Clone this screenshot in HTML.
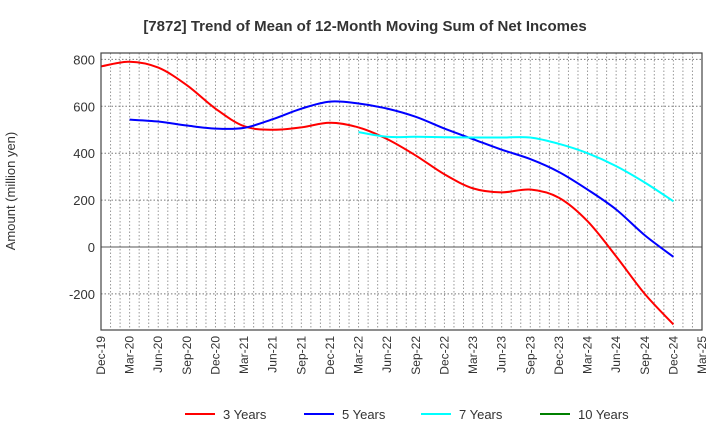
<!DOCTYPE html>
<html><head><meta charset="utf-8"><style>
body{margin:0;background:#fff;font-family:"Liberation Sans",sans-serif;}
svg text{font-family:"Liberation Sans",sans-serif;fill:#333;}
</style></head><body>
<svg id="chart" width="720" height="440" xmlns="http://www.w3.org/2000/svg">
<text x="365" y="31" text-anchor="middle" font-size="15" font-weight="bold">[7872]  Trend of Mean of 12-Month Moving Sum of Net Incomes</text>
<text transform="translate(15,191) rotate(-90)" text-anchor="middle" font-size="13">Amount (million yen)</text>
<g id="grid"></g><g id="series"></g><g id="axes"></g><g id="legend"></g>
</svg>
<script>
const xLabels=["Dec-19","Mar-20","Jun-20","Sep-20","Dec-20","Mar-21","Jun-21","Sep-21","Dec-21","Mar-22","Jun-22","Sep-22","Dec-22","Mar-23","Jun-23","Sep-23","Dec-23","Mar-24","Jun-24","Sep-24","Dec-24","Mar-25"];
const yTicks=[-200,0,200,400,600,800];
const s3=[770,790,765,690,590,515,500,510,530,510,460,390,310,250,233,245,210,110,-40,-200,-330];
const s5=[null,543,535,518,505,508,545,590,620,612,590,555,505,460,415,375,320,245,160,50,-42];
const s7=[null,null,null,null,null,null,null,null,null,490,470,470,468,467,467,467,440,400,345,275,195];
const s10=[];
const seriesNames=["3 Years","5 Years","7 Years","10 Years"];
const colors=["#ff0000","#0000ff","#00ffff","#008000"];
const L=101,R=702,T=53,B=330;
const X=m=>L+(R-L)*m/63;
const Y=v=>247-(v/200)*46.9;
const NS="http://www.w3.org/2000/svg";
function mk(t,a,p){const e=document.createElementNS(NS,t);for(const k in a)e.setAttribute(k,a[k]);p.appendChild(e);return e;}
const grid=document.getElementById('grid'),axes=document.getElementById('axes'),ser=document.getElementById('series'),leg=document.getElementById('legend');
for(let m=1;m<63;m++){const g=mk('line',{x1:X(m),x2:X(m),y1:T,y2:B,stroke:'#999','stroke-dasharray':'1.5,2','stroke-width':1},grid);}
yTicks.forEach(v=>{const g=mk('line',{x1:L,x2:R,y1:Y(v),y2:Y(v),stroke:v===0?'#555':'#777','stroke-dasharray':v===0?'none':'1.5,2','stroke-width':1},grid);
const t=mk('text',{x:L-6,y:Y(v)+5,'text-anchor':'end','font-size':13},axes);t.textContent=v;});
const fr=mk('rect',{x:L,y:T,width:R-L,height:B-T,fill:'none',stroke:'#444','stroke-width':1.2},axes);
xLabels.forEach((s,i)=>{const x=X(i*3);const t=mk('text',{transform:`translate(${x+4},${B+6}) rotate(-90)`,'text-anchor':'end','font-size':12},axes);t.textContent=s;});
function path(pts){if(pts.length<2)return '';let d=`M${pts[0][0]},${pts[0][1]}`;for(let i=0;i<pts.length-1;i++){const p0=pts[i-1]||pts[i],p1=pts[i],p2=pts[i+1],p3=pts[i+2]||p2;const c1=[p1[0]+(p2[0]-p0[0])/6,p1[1]+(p2[1]-p0[1])/6],c2=[p2[0]-(p3[0]-p1[0])/6,p2[1]-(p3[1]-p1[1])/6];d+=`C${c1[0]},${c1[1]} ${c2[0]},${c2[1]} ${p2[0]},${p2[1]}`;}return d;}
[s3,s5,s7,s10].forEach((s,k)=>{const pts=[];s.forEach((v,i)=>{if(v!==null&&v!==undefined)pts.push([X(i*3),Y(v)]);});if(pts.length<2)return;const p=mk('path',{d:path(pts),fill:'none',stroke:colors[k],'stroke-width':2},ser);});
const lx=[185,304,421,540];
seriesNames.forEach((n,k)=>{const g=mk('g',{},leg);mk('line',{x1:lx[k],x2:lx[k]+30,y1:414,y2:414,stroke:colors[k],'stroke-width':2},g);const t=mk('text',{x:lx[k]+38,y:419,'font-size':13},g);t.textContent=n;});
</script>
</body></html>
